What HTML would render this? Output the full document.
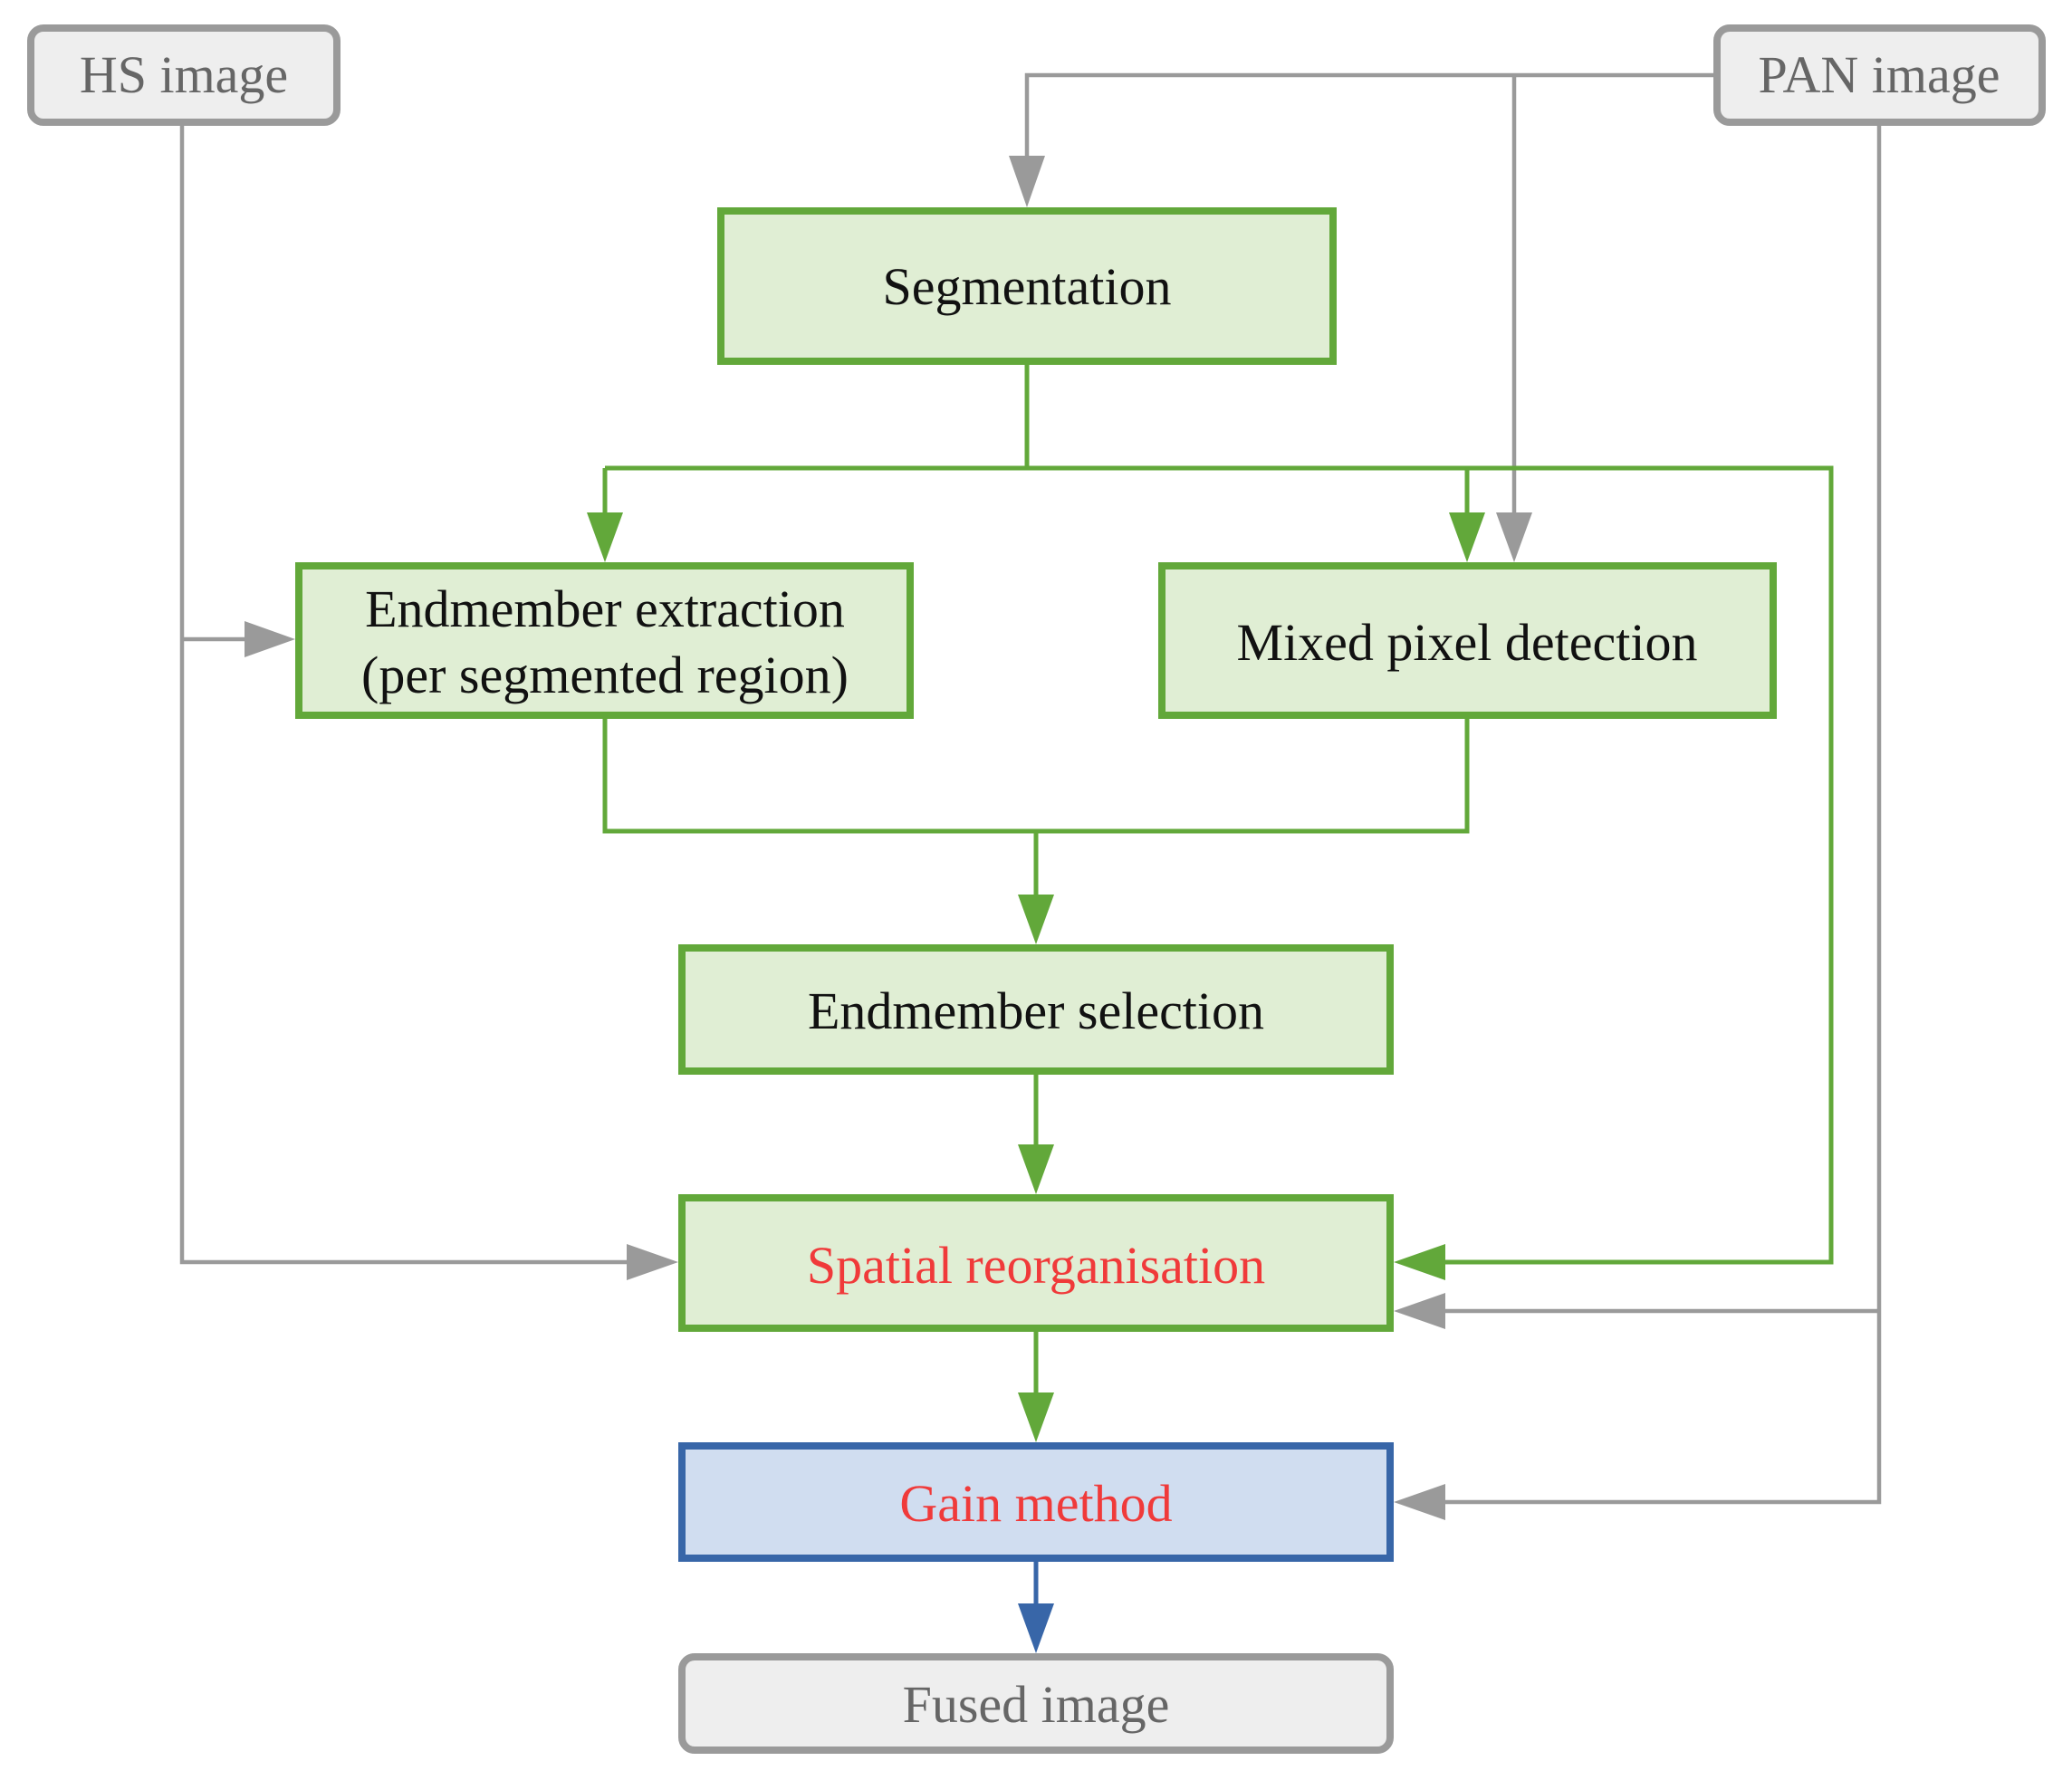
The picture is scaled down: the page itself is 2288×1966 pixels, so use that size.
<!DOCTYPE html>
<html><head><meta charset="utf-8"><style>html,body{margin:0;padding:0;background:#fff}svg{display:block}</style></head><body>
<svg width="2288" height="1966" viewBox="0 0 2288 1966" xmlns="http://www.w3.org/2000/svg" font-family="Liberation Serif, serif">
<g fill="none" stroke-linejoin="miter">
<g stroke="#9a9a9a" stroke-width="4.5">
<path d="M201 137 V1394 H700"/>
<path d="M201 706 H280"/>
<path d="M1894 83 H1134 V180"/>
<path d="M1672 83 V575"/>
<path d="M2075 137 V1659 H1590"/>
<path d="M2075 1448 H1590"/>
</g>
<g stroke="#62a83a" stroke-width="5">
<path d="M1134 401 V517"/>
<path d="M668 517 H2022 V1394 H1590"/>
<path d="M668 517 V575"/>
<path d="M1620 517 V575"/>
<path d="M668 792 V918 H1620 V792"/>
<path d="M1144 918 V995"/>
<path d="M1144 1185 V1270"/>
<path d="M1144 1469 V1545"/>
</g>
<path d="M1144 1723 V1780" stroke="#3866a8" stroke-width="5"/>
</g>
<g fill="#9a9a9a">
<polygon points="1114,172 1154,172 1134,229"/>
<polygon points="1652,566 1692,566 1672,621"/>
<polygon points="270,686 270,726 326,706"/>
<polygon points="692,1374 692,1414 749,1394"/>
<polygon points="1596,1428 1596,1468 1539,1448"/>
<polygon points="1596,1639 1596,1679 1539,1659"/>
</g>
<g fill="#62a83a">
<polygon points="648,566 688,566 668,621"/>
<polygon points="1600,566 1640,566 1620,621"/>
<polygon points="1124,988 1164,988 1144,1043"/>
<polygon points="1124,1264 1164,1264 1144,1319"/>
<polygon points="1124,1538 1164,1538 1144,1593"/>
<polygon points="1596,1374 1596,1414 1539,1394"/>
</g>
<polygon points="1124,1771 1164,1771 1144,1826" fill="#3866a8"/>
<g stroke-width="8">
<rect x="34" y="31" width="338" height="104" rx="14" fill="#eeeeee" stroke="#9a9a9a"/>
<rect x="1896" y="31" width="359" height="104" rx="14" fill="#eeeeee" stroke="#9a9a9a"/>
<rect x="796" y="233" width="676" height="166" fill="#e0eed4" stroke="#62a83a"/>
<rect x="330" y="625" width="675" height="165" fill="#e0eed4" stroke="#62a83a"/>
<rect x="1283" y="625" width="675" height="165" fill="#e0eed4" stroke="#62a83a"/>
<rect x="753" y="1047" width="782" height="136" fill="#e0eed4" stroke="#62a83a"/>
<rect x="753" y="1323" width="782" height="144" fill="#e0eed4" stroke="#62a83a"/>
<rect x="753" y="1597" width="782" height="124" fill="#d0ddf0" stroke="#3866a8"/>
<rect x="753" y="1830" width="782" height="103" rx="14" fill="#eeeeee" stroke="#9a9a9a"/>
</g>
<g font-size="58" text-anchor="middle">
<text x="203" y="102" fill="#666">HS image</text>
<text x="2075" y="102" fill="#666">PAN image</text>
<text x="1134" y="336" fill="#111">Segmentation</text>
<text x="668" y="692" fill="#111">Endmember extraction</text>
<text x="668" y="765" fill="#111">(per segmented region)</text>
<text x="1620" y="729" fill="#111">Mixed pixel detection</text>
<text x="1144" y="1136" fill="#111">Endmember selection</text>
<text x="1144" y="1417" fill="#f03a3a">Spatial reorganisation</text>
<text x="1144" y="1680" fill="#f03a3a">Gain method</text>
<text x="1144" y="1902" fill="#666">Fused image</text>
</g>
</svg>
</body></html>
